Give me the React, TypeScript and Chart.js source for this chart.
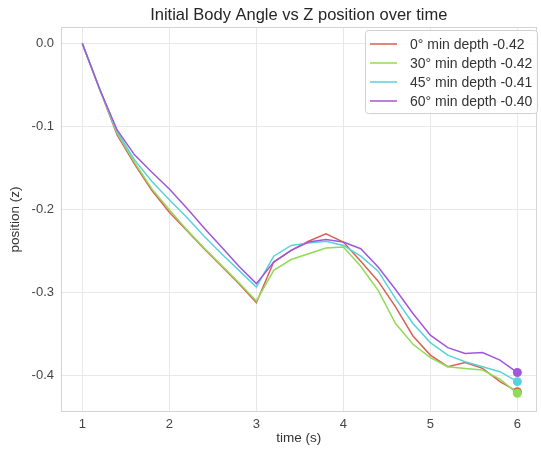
import React, { useEffect, useRef } from "react";
import { Chart, registerables } from "chart.js";

Chart.register(...registerables);

const times = [1, 1.2, 1.4, 1.6, 1.8, 2, 2.2, 2.4, 2.6, 2.8, 3, 3.2, 3.4, 3.6, 3.8, 4, 4.2, 4.4, 4.6, 4.8, 5, 5.2, 5.4, 5.6, 5.8, 6];

const z0 = [0, -0.055, -0.11, -0.145, -0.177, -0.203, -0.225, -0.247, -0.268, -0.289, -0.312, -0.263, -0.249, -0.238, -0.229, -0.239, -0.262, -0.286, -0.317, -0.352, -0.375, -0.389, -0.384, -0.391, -0.407, -0.419];
const z30 = [0, -0.055, -0.108, -0.143, -0.175, -0.2, -0.224, -0.246, -0.267, -0.288, -0.31, -0.273, -0.26, -0.253, -0.246, -0.245, -0.268, -0.297, -0.337, -0.362, -0.378, -0.389, -0.391, -0.393, -0.404, -0.421];
const z45 = [0, -0.055, -0.106, -0.14, -0.166, -0.188, -0.209, -0.232, -0.253, -0.273, -0.293, -0.256, -0.243, -0.24, -0.238, -0.243, -0.256, -0.274, -0.307, -0.337, -0.36, -0.375, -0.383, -0.389, -0.395, -0.407];
const z60 = [0, -0.055, -0.104, -0.134, -0.155, -0.175, -0.198, -0.222, -0.245, -0.268, -0.289, -0.263, -0.249, -0.239, -0.236, -0.239, -0.247, -0.269, -0.296, -0.325, -0.351, -0.366, -0.373, -0.372, -0.381, -0.396];

const seriesLabels = ["0° min depth -0.42", "30° min depth -0.42", "45° min depth -0.41", "60° min depth -0.40"];
const seriesColors = ["#db5f57", "#91db57", "#57d3db", "#a157db"];
const xTicks = [1, 2, 3, 4, 5, 6];
const yTicks = [-0.4, -0.3, -0.2, -0.1, 0.0];

const titleText = "Initial Body Angle vs Z position over time";
const xTitle = "time (s)";
const yTitle = "position (z)";

const FONT = '"Liberation Sans", Arial, sans-serif';

const decorPlugin = {
  id: "decor",
  afterDraw(chart: any) {
    const { ctx, chartArea } = chart;
    const { left, right, top, bottom } = chartArea;
    ctx.save();
    // frame
    ctx.strokeStyle = "#d4d4d4";
    ctx.lineWidth = 1;
    ctx.strokeRect(Math.round(left) + 0.5, Math.round(top) + 0.5, Math.round(right - left) - 1, Math.round(bottom - top) - 1);
    // title
    ctx.fillStyle = "#262626";
    ctx.font = `16.5px ${FONT}`;
    ctx.textAlign = "center";
    ctx.textBaseline = "middle";
    ctx.fillText(titleText, (left + right) / 2, 15);
    // axis titles
    ctx.font = `13.5px ${FONT}`;
    ctx.fillStyle = "#333";
    ctx.fillText(xTitle, (left + right) / 2, 438);
    ctx.save();
    ctx.translate(15, (top + bottom) / 2);
    ctx.rotate(-Math.PI / 2);
    ctx.fillText(yTitle, 0, 0);
    ctx.restore();
    // legend
    const bx = 365, by = 30, bw = 172, bh = 83;
    ctx.fillStyle = "rgba(255,255,255,0.85)";
    ctx.strokeStyle = "#d0d0d0";
    ctx.beginPath();
    (ctx as any).roundRect(bx + 0.5, by + 0.5, bw, bh, 3);
    ctx.fill();
    ctx.stroke();
    ctx.font = `14px ${FONT}`;
    ctx.textAlign = "left";
    chart.data.datasets.forEach((ds: any, i: number) => {
      const y = 44 + i * 19;
      ctx.strokeStyle = ds.borderColor;
      ctx.lineWidth = 1.5;
      ctx.beginPath();
      ctx.moveTo(370, y);
      ctx.lineTo(397, y);
      ctx.stroke();
      ctx.fillStyle = "#333";
      ctx.fillText(ds.label, 410, y + 1);
    });
    ctx.restore();
  },
};

export default function App() {
  const ref = useRef<HTMLCanvasElement>(null);
  useEffect(() => {
    if (!ref.current) return;
    const series = [z0, z30, z45, z60];
    const chart = new Chart(ref.current, {
      type: "line",
      data: {
        datasets: series.map((s, i) => ({
          label: seriesLabels[i],
          data: s.map((v, j) => ({ x: times[j], y: v })),
          borderColor: seriesColors[i],
          backgroundColor: seriesColors[i],
          borderWidth: 1.5,
          tension: 0,
          order: series.length - 1 - i,
          pointRadius: (c: any) => (c.dataIndex === s.length - 1 ? 4.5 : 0),
          pointBorderWidth: 0,
          pointHoverRadius: 0,
          fill: false,
        })),
      },
      options: {
        animation: false,
        responsive: false,
        devicePixelRatio: 1,
        layout: { padding: { left: 0, top: 27, right: 3, bottom: 0 } },
        plugins: { legend: { display: false }, title: { display: false }, tooltip: { enabled: false } },
        scales: {
          x: {
            type: "linear",
            min: 0.755,
            max: 6.22,
            afterBuildTicks: (sc: any) => { sc.ticks = xTicks.map((v) => ({ value: v })); },
            afterFit: (sc: any) => { sc.height = 37; },
            grid: { color: "#e8e8e8", drawTicks: false },
            border: { display: false },
            ticks: { padding: 5, color: "#444", font: { family: FONT, size: 13 }, callback: (v: any) => String(v) },
          },
          y: {
            type: "linear",
            min: -0.4435,
            max: 0.0199,
            afterBuildTicks: (sc: any) => { sc.ticks = yTicks.map((v) => ({ value: v })); },
            afterFit: (sc: any) => { sc.width = 61; },
            grid: { color: "#e8e8e8", drawTicks: false },
            border: { display: false },
            ticks: { padding: 7, color: "#444", font: { family: FONT, size: 13 }, callback: (v: any) => Number(v).toFixed(1) },
          },
        },
      } as any,
      plugins: [decorPlugin],
    });
    return () => chart.destroy();
  }, []);
  return (
    <div style={{ position: "fixed", left: 0, top: 0, width: 541, height: 449, background: "#fff" }}>
      <canvas ref={ref} width={541} height={449} style={{ width: 541, height: 449 }} />
    </div>
  );
}
